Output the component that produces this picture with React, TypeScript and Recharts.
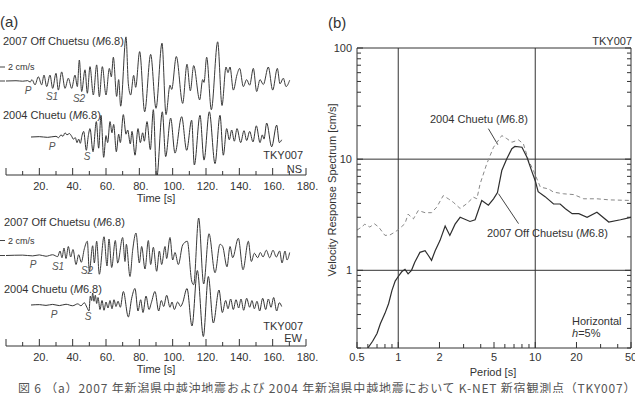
import React from 'react'
import { Line, LineChart, ReferenceLine, XAxis, YAxis } from 'recharts'

const SANS = '"Liberation Sans", Arial, sans-serif'

// (a) waveforms at TKY007: [time s, velocity cm/s]
const nsOff2007 = [
  [0, 0], [6, 0.04], [10, -0.03], [13, 0.05], [14.5, -0.15], [15.6, 0.2], [17.4, -0.55], [19.4, 0.6], [21.4, -0.55],
  [22.8, 0.85], [24.4, -0.8], [26.4, 0.85], [28, -1.05], [30, 1.1], [31.4, -1.3], [33.4, 1.3], [35.4, -1.05], [37.4, 0.4],
  [39.4, -1.05], [41.4, 0.85], [42.8, -0.8], [44, 3.0], [45.4, -1.5], [47.4, 1.6], [48.8, -1.75], [50.4, 2.05], [52.4, -2.0],
  [54.4, 2.3], [56, -2.25], [57.8, 2.05], [60, -2.0], [62, 1.8], [63.2, 0.6], [64.4, 3.4], [66.4, -2.2], [67.6, 0.2],
  [68.8, -3.6], [72, 6.3], [73.4, -0.4], [74.8, -2.0], [76.6, 0.8], [77.8, -0.9], [80.2, 4.2], [83.2, -4.4], [86.8, 3.8],
  [90, -3.9], [93.6, 5.4], [96, -4.8], [98.4, -0.6], [99.4, -1.2], [102.2, 3.5], [106, -3.2], [108.6, 2.4], [110.6, -1.4],
  [112.6, 2.2], [116.2, -2.7], [118, 0.2], [118.8, -0.2], [120.4, 3.4], [123.2, -4.1], [127, 5.6], [129.6, -3.5], [132, 2.0],
  [133.2, 1.2], [134.4, 2.0], [136.4, -1.3], [138.6, 0.9], [140.2, 1.8], [142.4, -0.8], [144.4, 0.2], [146.2, -0.6],
  [148.4, 1.8], [150.4, -1.5], [152.4, 0.2], [154.4, -0.5], [157.4, 2.0], [160, -1.3], [162.8, 1.8], [164.4, -0.4],
  [166.4, 0.4], [168, -0.8], [170.2, 0.1],
]
const nsChuetu2004 = [
  [15, 0], [20, 0.05], [25, -0.05], [30, 0.1], [31.5, -0.1], [33, 0.3], [34.2, 0.1], [35.4, 0.6], [36.6, 0.3], [38, 0.5],
  [39.4, 0.1], [40.4, -0.3], [41.6, -0.1], [42.6, -0.8], [43.6, -0.3], [44.6, -0.9], [45.6, 0.2], [46.6, 0.8], [48.2, -1.9],
  [49.4, 0.2], [50.4, 1.2], [52.2, -2.1], [54.2, 2.2], [55.6, -1.6], [57, 3.1], [58.6, -2.9], [60, 0.2], [61, -0.8],
  [62.4, 2.2], [63.6, 0.6], [64.6, 1.8], [66.2, -2.1], [67.6, 0.4], [68.6, -0.8], [70.4, 3.2], [72, 0.4], [73, 1.0],
  [74.6, -1.0], [75.6, 0.8], [77.4, -2.6], [79.2, 1.2], [80.6, -0.8], [82, 0.6], [83, -0.6], [84.6, 2.2], [86.6, -1.8],
  [88.4, 3.9], [90.4, -5.9], [93.8, 3.6], [95.8, -2.8], [98.8, 2.7], [101.4, -2.3], [105.4, 2.9], [108.4, -1.9], [111.4, 2.4],
  [113, -4.0], [116.4, 3.1], [118.8, -3.3], [122, 3.6], [125.4, -3.8], [128.4, 3.1], [130.4, -2.6], [132.4, 1.2], [134, -0.4],
  [135.4, 1.0], [137, -0.6], [138.6, 1.2], [140.8, -0.8], [142.8, 0.9], [144.4, -0.5], [146.2, 0.8], [148.2, -0.7],
  [150.2, 1.6], [152.4, -0.8], [153.8, 0.3], [154.8, -0.3], [156.4, 2.0], [159.4, -1.4], [162.4, 1.7], [164, -0.8], [165.4, -0.4],
]
const ewOff2007 = [
  [0, 0], [10, 0.05], [16, -0.05], [20, 0.08], [24, -0.1], [28, 0.1], [31, -0.15], [32.4, 0.6], [33.6, -0.3], [34.8, 1.0],
  [36, -0.4], [37.4, 1.2], [38.8, -0.2], [40.2, 0.8], [42, -1.2], [43.6, 0.1], [45.2, -0.9], [47, 0.9], [48.8, 1.9], [50, -2.1],
  [52, 1.3], [53, -1.0], [54.4, 1.9], [56, -2.5], [58.8, 2.5], [60.6, -1.4], [61.8, 2.2], [63.4, -1.6], [65.6, 2.0], [67, -1.0],
  [70, 2.4], [71.4, -0.8], [72.2, 1.5], [74.4, -2.8], [76, 0.7], [78, 3.0], [80, -1.0], [81.4, 1.2], [83.4, -1.8], [85.4, 2.0],
  [86.8, -1.2], [88.4, 1.1], [90.4, -2.1], [92, 0.6], [93.4, -1.2], [95.4, 1.2], [96.4, -0.4], [98.4, 2.4], [100, -0.6],
  [101.4, 0.4], [103.4, -1.2], [106, 1.4], [108.8, 1.9], [111.4, -3.4], [112.6, -3.9], [115.6, 5.0], [118.6, -3.8],
  [121.8, 2.9], [125.4, -2.3], [128.4, 1.5], [130, 1.2], [132.6, -1.5], [134.4, 1.2], [136, -0.3], [139.4, 2.3], [142.2, -1.9],
  [145.4, 1.9], [147.2, -0.8], [149, 0.3], [151, -0.3], [152.6, 0.4], [154.2, -0.2], [156.2, 0.7], [158.2, -0.3], [160.2, 0.7],
  [162.2, -0.2], [164.2, 0.6], [165.6, -1.0], [167.4, 0.6], [168.6, -0.6], [170.2, 0.4],
]
const ewChuetu2004 = [
  [15, 0], [20, 0.05], [24, -0.05], [28, 0.08], [32, -0.08], [36, 0.1], [40, -0.1], [43, 0.15], [45, -0.1], [47, 0.3],
  [48.5, -0.3], [49.8, -0.8], [50.6, 1.2], [51.4, 0.6], [52, 1.6], [52.8, 0.5], [53.6, 1.3], [54.4, 0.2], [55.2, 1.0],
  [56.4, -0.6], [57.6, 0.6], [58.8, -0.7], [60, 0.4], [61.2, -0.4], [62.4, 0.6], [63.6, -0.5], [64.8, 0.7], [66, -0.2],
  [67.2, 0.5], [68.6, -0.3], [70.4, 1.8], [73.4, -1.6], [75.4, 0.9], [77.4, 2.2], [79.2, -0.8], [80.8, 0.7], [82.2, -1.0],
  [84, 1.2], [85.8, -0.6], [87.2, 0.3], [89.4, 1.8], [91.6, -0.8], [93.2, 0.6], [94.6, -0.2], [96.4, 1.3], [98.4, -0.3],
  [99.6, 0.4], [101, -0.6], [103, 0.4], [104.8, -0.2], [106, 0.3], [108.6, 2.2], [111.6, -2.8], [114.8, 4.6], [118.4, -4.2],
  [121.4, 3.8], [124.4, -2.4], [127.8, 2.0], [129.8, -1.0], [131.8, 0.6], [133.2, -0.5], [134.8, 0.8], [136.4, -0.6],
  [138, 0.7], [139.6, -0.4], [141, 0.8], [142.6, -0.7], [144.4, 0.9], [146.2, -0.3], [147.6, 0.6], [149, -0.5], [150.6, 0.5],
  [152.2, -0.8], [154, 0.9], [155.8, -0.6], [157.4, 0.8], [159, -0.3], [160.6, 1.0], [162.4, -0.8], [164, 0.3], [165.4, -0.2],
]
const timeTicks = [0, 10, 20, 30, 40, 50, 60, 70, 80, 90, 100, 110, 120, 130, 140, 150, 160, 170, 180]

// (b) velocity response spectra, h=5%: [period s, cm/s]
const spec2007 = [
  [0.6, 0.2], [0.65, 0.23], [0.7, 0.27], [0.74, 0.33], [0.8, 0.41], [0.85, 0.5], [0.9, 0.66], [0.95, 0.8], [1.0, 0.88],
  [1.06, 0.97], [1.12, 1.02], [1.18, 0.93], [1.25, 1.0], [1.32, 1.18], [1.44, 1.45], [1.57, 1.5], [1.66, 1.36], [1.75, 1.23],
  [1.86, 1.5], [2.02, 1.86], [2.2, 2.5], [2.38, 2.06], [2.6, 2.6], [2.83, 3.0], [3.34, 2.75], [3.64, 2.85], [4.07, 4.25],
  [4.55, 3.85], [4.96, 4.4], [5.3, 5.0], [5.7, 7.9], [6.2, 10.1], [6.75, 12.4], [7.1, 13.0], [8.0, 12.8], [8.7, 10.4],
  [9.5, 7.6], [10.0, 6.4], [10.5, 5.1], [11.8, 4.6], [13.6, 3.95], [15.2, 3.95], [16.6, 3.58], [18.6, 3.23], [20.8, 3.23],
  [23.9, 3.0], [28.2, 3.33], [34.4, 2.72], [41.9, 2.85], [50, 3.0],
]
const spec2004 = [
  [0.5, 2.3], [0.54, 2.45], [0.57, 2.6], [0.62, 2.45], [0.67, 2.62], [0.72, 2.45], [0.8, 2.06], [0.87, 2.08], [0.94, 2.2],
  [1.0, 2.32], [1.12, 2.63], [1.18, 3.2], [1.29, 2.9], [1.4, 3.45], [1.57, 3.3], [1.75, 3.3], [1.91, 3.7], [2.13, 4.7],
  [2.32, 4.4], [2.52, 4.1], [2.83, 3.6], [3.16, 3.97], [3.54, 4.55], [3.75, 4.4], [3.96, 6.0], [4.43, 9.1], [4.96, 12.8],
  [5.7, 16.3], [6.2, 15.3], [6.75, 14.2], [7.55, 14.9], [8.2, 13.7], [8.95, 9.7], [9.7, 7.9], [10.9, 5.6], [12.5, 5.4],
  [13.6, 5.05], [16.1, 4.88], [19.1, 4.8], [22.6, 4.4], [28.2, 4.4], [35, 4.3], [50, 4.25],
]
const leader2004 = [[4.55, 18.8], [5.33, 13.5]]
const leader2007 = [[7.55, 2.63], [5.39, 4.89]]
const periodTicks = [0.5, 0.6, 0.7, 0.8, 0.9, 1, 2, 3, 4, 5, 6, 7, 8, 9, 10, 20, 30, 40, 50]
const periodLabels = [0.5, 1, 2, 5, 10, 20, 50]
const velTicks = [0.2, 0.3, 0.4, 0.5, 0.6, 0.7, 0.8, 0.9, 1, 2, 3, 4, 5, 6, 7, 8, 9, 10, 20, 30, 40, 50, 60, 70, 80, 90, 100]
const velLabels = [1, 10, 100]

const INK = '#333'

function Txt({ x, y, a = 'start', size = 11, italic = false, color = INK, rot = 0, font = SANS, spacing = 0, children }: any) {
  const tx = a === 'start' ? '0' : a === 'middle' ? '-50%' : '-100%'
  return (
    <div
      style={{
        position: 'absolute', left: x, top: y, transform: `translate(${tx}, -50%)${rot ? ` rotate(${rot}deg)` : ''}`,
        fontSize: size, fontStyle: italic ? 'italic' : 'normal', color, whiteSpace: 'nowrap', lineHeight: 1,
        fontFamily: font, letterSpacing: spacing,
      }}
    >
      {children}
    </div>
  )
}

function TimeTick({ x, y, payload }: any) {
  const v = payload.value
  const major = v % 20 === 0
  return (
    <g>
      <line x1={x} x2={x} y1={y} y2={y - (major ? 7 : 4)} stroke={INK} />
      {major && v > 0 && (
        <text x={x + 1.5} y={y + 15} textAnchor="middle" fontSize={11} fill={INK} fontFamily={SANS}>{v}.</text>
      )}
    </g>
  )
}

function BaseTick({ x, y }: any) {
  return <line x1={x - 6} x2={x - 1} y1={y} y2={y} stroke="#444" />
}

function WavePanel({ top, plotH, unitPx, upper, lower, baseUpper, baseLower }: any) {
  const ymax = plotH / unitPx
  const bu = baseUpper / unitPx
  const bl = baseLower / unitPx
  const rowsU = upper.map(([t, v]: number[]) => ({ t, v: v + bu }))
  const rowsL = lower.map(([t, v]: number[]) => ({ t, v: v + bl }))
  return (
    <div style={{ position: 'absolute', left: 0, top }}>
      <LineChart width={320} height={plotH + 35} margin={{ top: 0, right: 14, bottom: 34, left: 5 }}>
        <XAxis type="number" dataKey="t" domain={[0, 180]} ticks={timeTicks} interval={0} tick={TimeTick}
          tickLine={false} tickSize={0} tickMargin={0} height={1} stroke={INK} allowDataOverflow />
        <YAxis type="number" domain={[0, ymax]} ticks={[bu, bu + 2]} interval={0} tick={BaseTick} width={1}
          axisLine={false} tickLine={false} tickSize={0} tickMargin={0} allowDataOverflow />
        <Line data={rowsU} dataKey="v" type="monotone" stroke="#3a3a3a" strokeWidth={1} dot={false} isAnimationActive={false} />
        <Line data={rowsL} dataKey="v" type="monotone" stroke="#333" strokeWidth={1} dot={false} isAnimationActive={false} />
      </LineChart>
    </div>
  )
}

function PeriodTick({ x, y, payload }: any) {
  const v = payload.value
  const lab = periodLabels.includes(v)
  return (
    <g>
      <line x1={x} x2={x} y1={y} y2={y - (lab ? 6 : 4)} stroke={INK} />
      {lab && <text x={x} y={y + 13} textAnchor="middle" fontSize={11} fill={INK} fontFamily={SANS}>{v}</text>}
    </g>
  )
}
function PeriodTopTick({ x, y, payload }: any) {
  const lab = periodLabels.includes(payload.value)
  return <line x1={x} x2={x} y1={y} y2={y + (lab ? 6 : 4)} stroke={INK} />
}
function VelTick({ x, y, payload }: any) {
  const v = payload.value
  const lab = velLabels.includes(v)
  return (
    <g>
      <line x1={x} x2={x + (lab ? 6 : 4)} y1={y} y2={y} stroke={INK} />
      {lab && <text x={x - 5} y={y + 4} textAnchor="end" fontSize={11} fill={INK} fontFamily={SANS}>{v}</text>}
    </g>
  )
}
function VelRightTick({ x, y, payload }: any) {
  const lab = velLabels.includes(payload.value)
  return <line x1={x} x2={x - (lab ? 6 : 4)} y1={y} y2={y} stroke={INK} />
}

function SpectrumPanel() {
  const s07 = spec2007.map(([p, v]) => ({ p, v }))
  const s04 = spec2004.map(([p, v]) => ({ p, v }))
  const logAxis = { type: 'number' as const, scale: 'log' as const, allowDataOverflow: true, interval: 0, tickLine: false, tickSize: 0, tickMargin: 0, stroke: INK }
  return (
    <div style={{ position: 'absolute', left: 320, top: 0 }}>
      <LineChart width={315} height={393} margin={{ top: 47, right: 3, bottom: 44, left: 36 }}>
        <XAxis {...logAxis} dataKey="p" domain={[0.5, 50]} ticks={periodTicks} tick={PeriodTick} height={1} />
        <XAxis {...logAxis} xAxisId="top" orientation="top" domain={[0.5, 50]} ticks={periodTicks} tick={PeriodTopTick} height={1} />
        <YAxis {...logAxis} domain={[0.2, 100]} ticks={velTicks} tick={VelTick} width={1} />
        <YAxis {...logAxis} yAxisId="right" orientation="right" domain={[0.2, 100]} ticks={velTicks} tick={VelRightTick} width={1} />
        <ReferenceLine x={1} stroke={INK} />
        <ReferenceLine x={10} stroke={INK} />
        <ReferenceLine y={1} stroke={INK} />
        <ReferenceLine y={10} stroke={INK} />
        <ReferenceLine segment={leader2004.map(([x, y]) => ({ x, y }))} stroke="#444" />
        <ReferenceLine segment={leader2007.map(([x, y]) => ({ x, y }))} stroke="#444" />
        <Line data={s04} dataKey="v" type="linear" stroke="#888" strokeWidth={1} strokeDasharray="4 3" dot={false} isAnimationActive={false} />
        <Line data={s07} dataKey="v" type="linear" stroke="#2e2e2e" strokeWidth={1.2} dot={false} isAnimationActive={false} />
      </LineChart>
    </div>
  )
}

export default function App() {
  const m = <i>M</i>
  return (
    <div style={{ position: 'absolute', left: 0, top: 0, width: 635, height: 393, overflow: 'hidden', background: '#fff', fontFamily: SANS }}>
      <WavePanel top={35} plotH={140} unitPx={7} upper={nsOff2007} lower={nsChuetu2004} baseUpper={94} baseLower={38} />
      <WavePanel top={205} plotH={141} unitPx={7.5} upper={ewOff2007} lower={ewChuetu2004} baseUpper={90.5} baseLower={41} />
      <SpectrumPanel />

      <Txt x={0} y={21} size={15}>(a)</Txt>
      <Txt x={3} y={41}>2007 Off Chuetsu ({m}6.8)</Txt>
      <Txt x={8} y={67} size={9}>2 cm/s</Txt>
      <Txt x={28} y={91} a="middle" size={10} italic color="#555">P</Txt>
      <Txt x={52} y={97} a="middle" size={10} italic color="#555">S1</Txt>
      <Txt x={79} y={99} a="middle" size={10} italic color="#555">S2</Txt>
      <Txt x={3} y={115}>2004 Chuetu ({m}6.8)</Txt>
      <Txt x={52} y={147} a="middle" size={10} italic color="#555">P</Txt>
      <Txt x={87} y={157} a="middle" size={10} italic color="#555">S</Txt>
      <Txt x={303} y={155} a="end">TKY007</Txt>
      <Txt x={302} y={169} a="end">NS</Txt>
      <Txt x={156} y={198} a="middle">Time [s]</Txt>

      <Txt x={4} y={222}>2007 Off Chuetsu ({m}6.8)</Txt>
      <Txt x={8} y={241} size={9}>2 cm/s</Txt>
      <Txt x={33} y={265} a="middle" size={10} italic color="#555">P</Txt>
      <Txt x={58} y={267} a="middle" size={10} italic color="#555">S1</Txt>
      <Txt x={87} y={271} a="middle" size={10} italic color="#555">S2</Txt>
      <Txt x={4} y={289}>2004 Chuetu ({m}6.8)</Txt>
      <Txt x={54} y={315} a="middle" size={10} italic color="#555">P</Txt>
      <Txt x={88} y={317} a="middle" size={10} italic color="#555">S</Txt>
      <Txt x={303} y={326} a="end">TKY007</Txt>
      <Txt x={302} y={338} a="end">EW</Txt>
      <Txt x={156} y={369} a="middle">Time [s]</Txt>

      <Txt x={328} y={22} size={15}>(b)</Txt>
      <Txt x={632} y={41} a="end">TKY007</Txt>
      <Txt x={332} y={190} a="middle" rot={-90}>Velocity Response Spectrum [cm/s]</Txt>
      <Txt x={493} y={372} a="middle">Period [s]</Txt>
      <Txt x={430} y={119}>2004 Chuetu ({m}6.8)</Txt>
      <Txt x={487} y={233}>2007 Off Chuetsu ({m}6.8)</Txt>
      <Txt x={572} y={321}>Horizontal</Txt>
      <Txt x={572} y={333}><i>h</i>=5%</Txt>

      <Txt x={18} y={388} size={12} color="#555" font='"Noto Sans CJK JP", sans-serif' spacing={0.8}>
        図 6 （a）2007 年新潟県中越沖地震および 2004 年新潟県中越地震において K-NET 新宿観測点（TKY007）
      </Txt>
    </div>
  )
}
